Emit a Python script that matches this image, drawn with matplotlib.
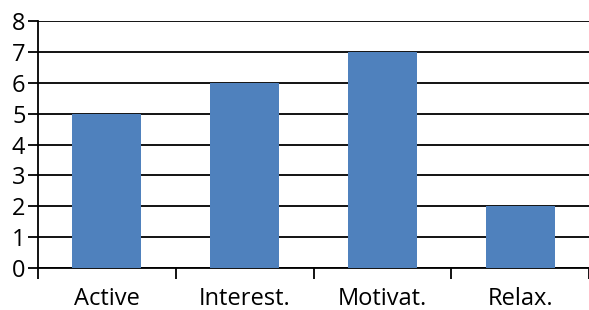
import numpy as np
import matplotlib.pyplot as plt

categories = ["Active", "Interest.", "Motivat.", "Relax."]
values = [5, 6, 7, 2]
yticks = list(range(0, 9))

plt.rcParams['font.family'] = ['Open Sans', 'DejaVu Sans']

fig = plt.figure(figsize=(5.89, 3.10), dpi=100)
ax = fig.add_axes([38 / 589, 42 / 310, 551 / 589, 247 / 310])

x = np.arange(len(categories))
ax.bar(x, values, width=0.5, color='#4F81BD', zorder=3)

ax.set_ylim(0, 8)
ax.set_xlim(-0.5, 3.5)
ax.set_yticks(yticks)
ax.set_yticklabels([str(t) for t in yticks], fontsize=17)
for t in yticks:
    ax.axhline(t, color='black', lw=1.3, zorder=1)

# category labels centred, tick marks between categories
ax.set_xticks(x)
ax.set_xticklabels(categories, fontsize=17)
ax.tick_params(axis='x', length=0, pad=14)
ax.set_xticks(np.arange(-0.5, 3.6, 1), minor=True)
ax.tick_params(axis='x', which='minor', length=8, width=1.3, direction='out')
ax.tick_params(axis='y', length=7, width=1.3, pad=2)

for s in ['top', 'right']:
    ax.spines[s].set_visible(False)
ax.spines['left'].set_linewidth(1.3)
ax.spines['bottom'].set_linewidth(1.3)

fig.savefig('out.png', dpi=100)
